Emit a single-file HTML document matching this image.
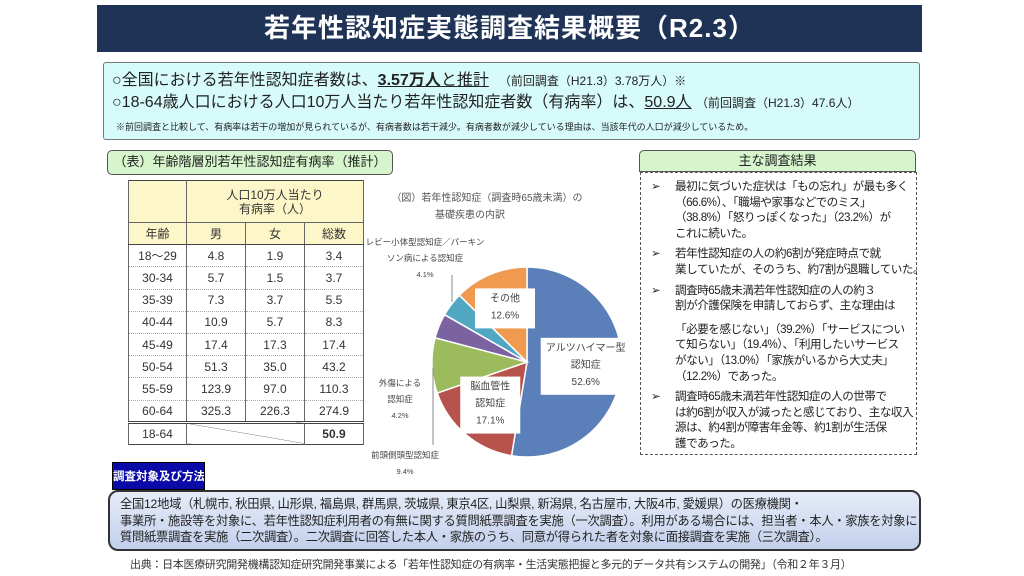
<!DOCTYPE html>
<html><head><meta charset="utf-8">
<style>
*{box-sizing:border-box;margin:0;padding:0}
body{width:1024px;height:576px;background:#fff;position:relative;overflow:hidden;font-family:"Liberation Sans","Noto Sans CJK JP",sans-serif;color:#222}
.abs{position:absolute}
#title{left:97px;top:5px;width:825px;height:47px;background:#1f3356;color:#fff;font-size:26px;font-weight:bold;text-align:center;line-height:47px;letter-spacing:1px}
#summary{left:103px;top:62px;width:817px;height:78px;background:#d7fbfb;border:1px solid #777;border-radius:3px}
.l1{font-size:16px;white-space:nowrap}
#tlabel{left:107px;top:150px;width:286px;height:25px;background:#d6f5cc;border:1.5px solid #555;border-radius:5px;font-size:13px;text-align:center;line-height:22px}
table{border-collapse:collapse;font-size:12px;color:#333}
td{text-align:center;border-left:1px solid #666;border-right:1px solid #666;height:22.2px;border-bottom:1px dotted #aaa}
#rtitle{left:639px;top:150px;width:277px;height:22px;background:#d6f5cc;border:1.5px solid #555;border-radius:5px 5px 0 0;font-size:13px;text-align:center;line-height:20px}
#rbox{left:640px;top:172px;width:277px;height:283px;border:1.5px dashed #555;font-size:11.6px;line-height:15.6px;padding:6px 4px 0 4px;letter-spacing:-0.5px;white-space:nowrap}
#rbox .it{position:relative;padding-left:30px;margin-bottom:5px}
#rbox .it b{position:absolute;left:6px;top:0;font-weight:normal}
#mlabel{left:112px;top:462px;width:93px;height:28px;background:#0a0aa8;color:#fff;font-weight:bold;font-size:11.5px;text-align:center;line-height:28px;border:1px solid #000;white-space:nowrap;overflow:hidden}
#mbox{left:108px;top:490px;width:813px;height:61px;border:2px solid #333;border-radius:10px;background:linear-gradient(#e6ecf8,#c3d0ec);font-size:12.3px;line-height:16.5px;padding:4px 10px;white-space:nowrap;letter-spacing:-0.3px}
#cite{left:130px;top:556px;font-size:11px;color:#333;letter-spacing:-0.3px}
</style></head><body>
<div class="abs" id="title">若年性認知症実態調査結果概要（R2.3）</div>

<div class="abs" id="summary">
 <div class="abs l1" style="left:8px;top:3px">○全国における若年性認知症者数は、<b style="text-decoration:underline">3.57万人</b><span style="text-decoration:underline">と推計</span>　<span style="font-size:12px">（前回調査（H21.3）3.78万人）※</span></div>
 <div class="abs l1" style="left:8px;top:25px">○18-64歳人口における人口10万人当たり若年性認知症者数（有病率）は、<span style="text-decoration:underline">50.9人</span> <span style="font-size:12px">（前回調査（H21.3）47.6人）</span></div>
 <div class="abs" style="left:12px;top:57px;font-size:9px;white-space:nowrap">※前回調査と比較して、有病率は若干の増加が見られているが、有病者数は若干減少。有病者数が減少している理由は、当該年代の人口が減少しているため。</div>
</div>

<div class="abs" id="tlabel">（表）年齢階層別若年性認知症有病率（推計）</div>
<table class="abs" style="left:128px;top:180px;width:236px;border:1.5px solid #444">
<tr style="background:#fdf6c8"><td style="height:42px;border-bottom:1px solid #666;width:58px"></td><td colspan="3" style="border-bottom:1px solid #666;line-height:14px">人口10万人当たり<br>有病率（人）</td></tr>
<tr style="background:#fdf6c8"><td style="border-bottom:1px solid #444;width:58px">年齢</td><td style="border-bottom:1px solid #444">男</td><td style="border-bottom:1px solid #444">女</td><td style="border-bottom:1px solid #444">総数</td></tr>
<tr><td>18～29</td><td>4.8</td><td>1.9</td><td>3.4</td></tr>
<tr><td>30-34</td><td>5.7</td><td>1.5</td><td>3.7</td></tr>
<tr><td>35-39</td><td>7.3</td><td>3.7</td><td>5.5</td></tr>
<tr><td>40-44</td><td>10.9</td><td>5.7</td><td>8.3</td></tr>
<tr><td>45-49</td><td>17.4</td><td>17.3</td><td>17.4</td></tr>
<tr><td>50-54</td><td>51.3</td><td>35.0</td><td>43.2</td></tr>
<tr><td>55-59</td><td>123.9</td><td>97.0</td><td>110.3</td></tr>
<tr><td style="border-bottom:3px double #444">60-64</td><td style="border-bottom:3px double #444">325.3</td><td style="border-bottom:3px double #444">226.3</td><td style="border-bottom:3px double #444">274.9</td></tr>
<tr><td style="border-bottom:none">18-64</td><td colspan="2" style="border-bottom:none;background:linear-gradient(to top right,transparent 49%,#666 50%,transparent 51%) , linear-gradient(#fff,#fff)"></td><td style="border-bottom:none;font-weight:bold">50.9</td></tr>
</table>

<svg class="abs" style="left:360px;top:180px" width="280" height="300" id="pie">
 <text x="127" y="21" font-size="10" fill="#555" text-anchor="middle">（図）若年性認知症（調査時65歳未満）の</text>
 <text x="110" y="38" font-size="10" fill="#555" text-anchor="middle">基礎疾患の内訳</text>
 <g id="slices"></g>
 <line x1="92" y1="95" x2="92" y2="122" stroke="#888"/>
 <line x1="73" y1="188" x2="73" y2="265" stroke="#888"/>
</svg>

<div class="abs" id="rtitle">主な調査結果</div>
<div class="abs" id="rbox">
 <div class="it"><b>➢</b>最初に気づいた症状は「もの忘れ」が最も多く<br>（66.6%）、「職場や家事などでのミス」<br>（38.8%）「怒りっぽくなった」（23.2%）が<br>これに続いた。</div>
 <div class="it"><b>➢</b>若年性認知症の人の約6割が発症時点で就<br>業していたが、そのうち、約7割が退職していた。</div>
 <div class="it"><b>➢</b>調査時65歳未満若年性認知症の人の約３<br>割が介護保険を申請しておらず、主な理由は<br><span style="display:block;margin-top:8px">「必要を感じない」（39.2%）「サービスについ<br>て知らない」（19.4%）、「利用したいサービス<br>がない」（13.0%）「家族がいるから大丈夫」<br>（12.2%）であった。</span></div>
 <div class="it"><b>➢</b>調査時65歳未満若年性認知症の人の世帯で<br>は約6割が収入が減ったと感じており、主な収入<br>源は、約4割が障害年金等、約1割が生活保<br>護であった。</div>
</div>

<div class="abs" id="mlabel">調査対象及び方法</div>
<div class="abs" id="mbox">全国12地域（札幌市, 秋田県, 山形県, 福島県, 群馬県, 茨城県, 東京4区, 山梨県, 新潟県, 名古屋市, 大阪4市, 愛媛県）の医療機関・<br>事業所・施設等を対象に、若年性認知症利用者の有無に関する質問紙票調査を実施（一次調査）。利用がある場合には、担当者・本人・家族を対象に<br>質問紙票調査を実施（二次調査）。二次調査に回答した本人・家族のうち、同意が得られた者を対象に面接調査を実施（三次調査）。</div>
<div class="abs" id="cite">出典：日本医療研究開発機構認知症研究開発事業による「若年性認知症の有病率・生活実態把握と多元的データ共有システムの開発」（令和２年３月）</div>

<script>
const categories=["アルツハイマー型認知症","脳血管性認知症","前頭側頭型認知症","外傷による認知症","レビー小体型認知症／パーキンソン病による認知症","その他"];
const values=[52.6,17.1,9.4,4.2,4.1,12.6];
const labelLines=[["アルツハイマー型","認知症"],["脳血管性","認知症"],["前頭側頭型認知症"],["外傷による","認知症"],["レビー小体型認知症／パーキン","ソン病による認知症"],["その他"]];
const colors=["#5b7fb8","#b8524c","#9bbb5c","#7b62a0","#4fa7c1","#ef9a4f"];
const NS="http://www.w3.org/2000/svg";
const g=document.getElementById('slices');
const svg=document.getElementById('pie');
const cx=167,cy=182,r=95;
const total=values.reduce((a,b)=>a+b,0);
function pt(a,rr){return [cx+rr*Math.sin(a),cy-rr*Math.cos(a)];}
let acc=0;
const inside=[true,true,false,false,false,true];
const outPos=[null,null,[45,278],[40,206],[65,65],null];
values.forEach((v,i)=>{
  const a0=acc/total*2*Math.PI;acc+=v;const a1=acc/total*2*Math.PI;
  const p0=pt(a0,r),p1=pt(a1,r);
  const path=document.createElementNS(NS,'path');
  path.setAttribute('d',`M${cx},${cy}L${p0[0]},${p0[1]}A${r},${r} 0 ${a1-a0>Math.PI?1:0} 1 ${p1[0]},${p1[1]}Z`);
  path.setAttribute('fill',colors[i]);path.setAttribute('stroke','#fff');path.setAttribute('stroke-width','1.5');
  
  
  g.appendChild(path);
  const lines=labelLines[i].concat([v.toFixed(1)+'%']);
  let x,y,fs;
  if(inside[i]){
    const am=(a0+a1)/2;const q=pt(am,r*(i==0?0.62:0.6));x=q[0];y=q[1]-(lines.length-1)*8;fs=10;
    const w=Math.max(...lines.map(s=>s.length))*10+10;
    const bg=document.createElementNS(NS,'rect');
    bg.setAttribute('x',x-w/2);bg.setAttribute('y',y-13);bg.setAttribute('width',w);bg.setAttribute('height',lines.length*17+6);bg.setAttribute('fill','#fff');
    
    
    svg.appendChild(bg);
  }else{x=outPos[i][0];y=outPos[i][1];fs=8.5;}
  lines.forEach((s,k)=>{
    const t=document.createElementNS(NS,'text');
    t.setAttribute('x',x);t.setAttribute('y',y+k*(inside[i]?17:16));
    t.setAttribute('text-anchor','middle');t.setAttribute('font-size',k==lines.length-1&&!inside[i]?7.5:fs);t.setAttribute('fill','#444');
    t.textContent=s;
    
    
    svg.appendChild(t);
  });
});
</script>
</body></html>
